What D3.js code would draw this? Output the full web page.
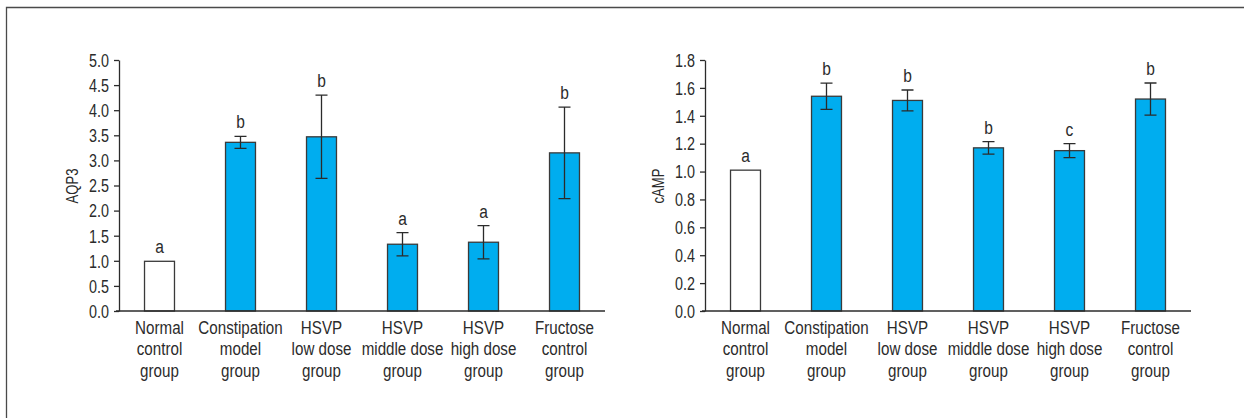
<!DOCTYPE html>
<html>
<head>
<meta charset="utf-8">
<script src="https://cdn.jsdelivr.net/npm/d3@7"></script>
<style>
  html, body { margin: 0; padding: 0; background: #fff; }
  svg { display: block; }
  text { font-family: "Liberation Sans", Arial, sans-serif; fill: #2b2b2b; }
</style>
</head>
<body>
<svg id="chart" width="1244" height="418"></svg>
<script>
// category labels (one entry per line)
var categories = [
  ["Normal", "control", "group"],
  ["Constipation", "model", "group"],
  ["HSVP", "low dose", "group"],
  ["HSVP", "middle dose", "group"],
  ["HSVP", "high dose", "group"],
  ["Fructose", "control", "group"]
];

// AQP3 panel
var aqp3_values = [0.99, 3.36, 3.47, 1.33, 1.37, 3.15];
var aqp3_errors = [0, 0.12, 0.83, 0.23, 0.33, 0.91];
var aqp3_letters = ["a", "b", "b", "a", "a", "b"];
var aqp3_ticks = [0, 0.5, 1, 1.5, 2, 2.5, 3, 3.5, 4, 4.5, 5];

// cAMP panel
var camp_values = [1.01, 1.54, 1.51, 1.17, 1.15, 1.52];
var camp_errors = [0, 0.094, 0.075, 0.045, 0.05, 0.115];
var camp_letters = ["a", "b", "b", "b", "c", "b"];
var camp_ticks = [0, 0.2, 0.4, 0.6, 0.8, 1.0, 1.2, 1.4, 1.6, 1.8];

// the original uses a condensed face, so squeeze text horizontally
const SQ = 0.82;

const svg = d3.select("#chart");

// outer frame (only top and left edges are in view)
svg.append("path")
  .attr("d", "M6.5,418 V7.5 H1244")
  .attr("fill", "none")
  .attr("stroke", "#4a4a4a")
  .attr("stroke-width", 1.3);

function squeezed(g, x, y, size) {
  return g.append("text")
    .attr("transform", `translate(${x}, ${y}) scale(${SQ}, 1)`)
    .attr("text-anchor", "middle")
    .attr("font-size", size);
}

function draw_panel(opts) {
  const g = svg.append("g");
  const x = d3.scaleBand()
    .domain(d3.range(categories.length))
    .range([opts.left, opts.left + 486])
    .paddingInner(0.63)
    .paddingOuter(0.315);
  const cx = (i) => x(i) + x.bandwidth() / 2;

  const y = d3.scaleLinear()
    .domain([0, opts.max])
    .range([311, 60]);

  // y axis
  const y_axis = g.append("g")
    .attr("transform", `translate(${opts.left}, 0)`)
    .call(d3.axisLeft(y).tickValues(opts.ticks).tickFormat(d3.format(".1f")).tickSize(5).tickPadding(5).tickSizeOuter(0));
  y_axis.select(".domain").attr("stroke", "#2b2b2b").attr("stroke-width", 1.3);
  y_axis.selectAll(".tick line").attr("stroke", "#2b2b2b").attr("stroke-width", 1.3);
  y_axis.selectAll(".tick text")
    .attr("font-size", 17.5)
    .attr("font-family", null)
    .attr("fill", null)
    .attr("x", -10 / SQ)
    .attr("dy", "0.36em")
    .attr("transform", `scale(${SQ}, 1)`);

  // bars
  g.selectAll("rect.bar")
    .data(opts.values)
    .join("rect")
    .attr("class", "bar")
    .attr("x", (d, i) => x(i))
    .attr("width", x.bandwidth())
    .attr("y", (d) => y(d))
    .attr("height", (d) => y(0) - y(d))
    .attr("fill", (d, i) => (i === 0 ? "#ffffff" : "#00adef"))
    .attr("stroke", "#3a3a3a")
    .attr("stroke-width", 1.3);

  // error bars
  const cap = 6;
  opts.values.forEach((v, i) => {
    const e = opts.errors[i];
    if (!e) return;
    const top = y(v + e), bot = y(v - e);
    g.append("path")
      .attr("d", `M${cx(i)},${top} V${bot} M${cx(i) - cap},${top} H${cx(i) + cap} M${cx(i) - cap},${bot} H${cx(i) + cap}`)
      .attr("fill", "none")
      .attr("stroke", "#2b2b2b")
      .attr("stroke-width", 1.3);
  });

  // significance letters
  opts.letters.forEach((s, i) => {
    squeezed(g, cx(i), y(opts.values[i] + opts.errors[i]) - 8, 19).text(s);
  });

  // x axis line
  g.append("line")
    .attr("x1", opts.left - 3)
    .attr("x2", opts.left + 486)
    .attr("y1", y(0))
    .attr("y2", y(0))
    .attr("stroke", "#2b2b2b")
    .attr("stroke-width", 1.3);

  // category labels
  categories.forEach((lines, i) => {
    const t = squeezed(g, cx(i), 334, 18.5);
    lines.forEach((s, k) => {
      t.append("tspan")
        .attr("x", 0)
        .attr("dy", k === 0 ? 0 : 21.5)
        .text(s);
    });
  });

  // y axis title
  g.append("text")
    .attr("transform", `translate(${opts.title_x}, 186) rotate(-90) scale(${SQ}, 1)`)
    .attr("text-anchor", "middle")
    .attr("font-size", 16)
    .text(opts.title);
}

draw_panel({
  left: 119, max: 5, ticks: aqp3_ticks,
  values: aqp3_values, errors: aqp3_errors, letters: aqp3_letters,
  title: "AQP3", title_x: 78
});

draw_panel({
  left: 705, max: 1.8, ticks: camp_ticks,
  values: camp_values, errors: camp_errors, letters: camp_letters,
  title: "cAMP", title_x: 664
});
</script>
</body>
</html>
